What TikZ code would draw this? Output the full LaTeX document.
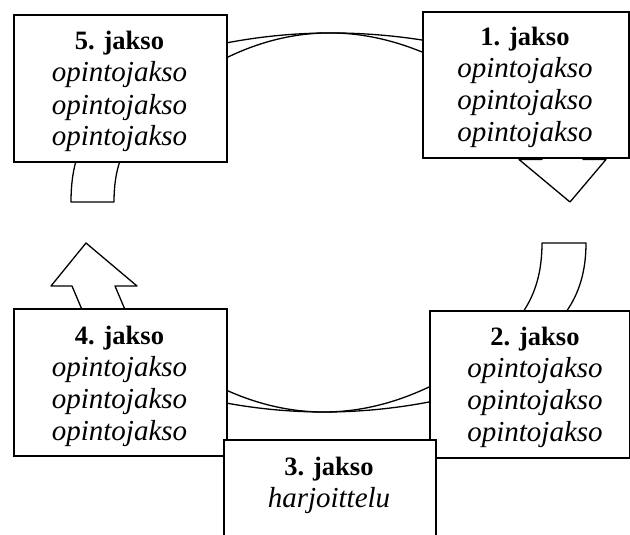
\documentclass[tikz,border=0pt]{standalone}
\usepackage{fontspec}
\setmainfont{Liberation Serif}
\begin{document}
\begin{tikzpicture}[x=1pt,y=-1pt,
  box/.style={draw=black,fill=white,line width=1.6pt},
  band/.style={draw=black,fill=white,line width=1.3pt,line join=round},
  head/.style={font=\fontsize{26.5}{32}\selectfont\bfseries,anchor=base,inner sep=0pt},
  item/.style={font=\fontsize{29}{32}\selectfont\itshape,anchor=base,inner sep=0pt}]
\useasboundingbox (0,0) rectangle (630,535);
\clip (0,0) rectangle (630,535);
% top band between 5 and 1
\draw[band,fill=none] (226,43) .. controls (290,30.7) and (355.3,29.7) .. (422,40);
\draw[band,fill=none] (226,58) .. controls (290,26.7) and (355.3,24.7) .. (422,52);
% bottom band between 4 and 2
\draw[band,fill=none] (226,390) .. controls (293,420.3) and (360.7,419.3) .. (429,387);
\draw[band,fill=none] (226,403) .. controls (293,415.3) and (360.7,415) .. (429,402);
% right band and arrowhead
\draw[band] (542,243) -- (586,243) .. controls (586,271) and (579.3,293.3) .. (566,312)
  -- (523,312) .. controls (535.7,293.3) and (542,271) .. cycle;
\draw[band] (542,150) -- (542,159.5) -- (519,159.5) -- (570,202) -- (606,159.5)
  -- (583,159.5) -- (583,150);
% left band and arrowhead
\draw[band] (76,155) -- (76,161) .. controls (72.7,172.3) and (71,186) .. (71,202)
  -- (114,202) .. controls (114,186) and (116,172.3) .. (120,161) -- (120,155);
\draw[band] (83,312) -- (72,286) -- (51,286) -- (86,243) -- (137,286) -- (115,286) -- (126,312);
% boxes
\node[box,minimum width=213pt,minimum height=147pt,anchor=north west] (b5) at (13,14) {};
\node[box,minimum width=206pt,minimum height=146pt,anchor=north west] (b1) at (422,11) {};
\node[box,minimum width=213pt,minimum height=147pt,anchor=north west] (b4) at (13,308) {};
\node[box,minimum width=200pt,minimum height=147pt,anchor=north west] (b2) at (429,310) {};
\node[box,minimum width=212pt,minimum height=140pt,anchor=north west] (b3) at (223,439) {};
% texts
\node[head] (h5) at (119.5,50) {5. jakso};
\node[item] (t5a) at (119.5,82) {opintojakso};
\node[item] (t5b) at (119.5,114) {opintojakso};
\node[item] (t5c) at (119.5,146) {opintojakso};
\node[head] (h1) at (525,46) {1. jakso};
\node[item] (t1a) at (525,78) {opintojakso};
\node[item] (t1b) at (525,110) {opintojakso};
\node[item] (t1c) at (525,142) {opintojakso};
\node[head] (h4) at (119.5,344) {4. jakso};
\node[item] (t4a) at (119.5,376) {opintojakso};
\node[item] (t4b) at (119.5,408) {opintojakso};
\node[item] (t4c) at (119.5,440) {opintojakso};
\node[head] (h2) at (535,345) {2. jakso};
\node[item] (t2a) at (535,377) {opintojakso};
\node[item] (t2b) at (535,409) {opintojakso};
\node[item] (t2c) at (535,441) {opintojakso};
\node[head] (h3) at (329,475) {3. jakso};
\node[item] (t3a) at (329,507) {harjoittelu};
\end{tikzpicture}
\end{document}
